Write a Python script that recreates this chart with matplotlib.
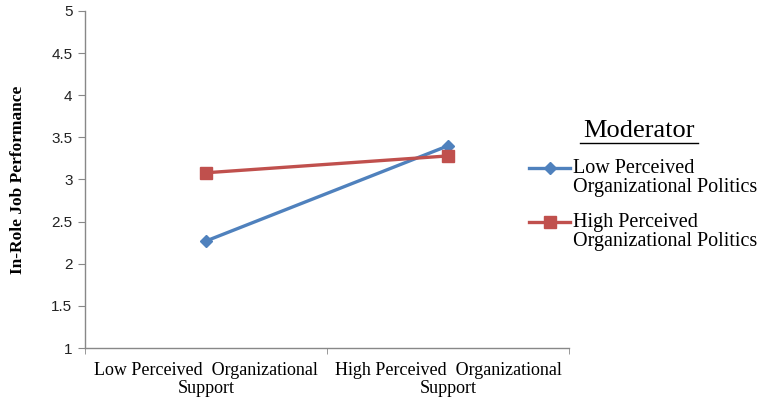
import matplotlib
matplotlib.use("Agg")
import matplotlib.pyplot as plt
from matplotlib.lines import Line2D

categories = ["Low Perceived  Organizational\nSupport", "High Perceived  Organizational\nSupport"]
low_politics = [2.27, 3.40]
high_politics = [3.08, 3.28]
series_names = ["Low Perceived\nOrganizational Politics", "High Perceived\nOrganizational Politics"]
y_ticks = [1, 1.5, 2, 2.5, 3, 3.5, 4, 4.5, 5]
y_tick_labels = ["1", "1.5", "2", "2.5", "3", "3.5", "4", "4.5", "5"]

blue = "#4F81BD"
red = "#C0504D"
serif = ["Liberation Serif", "DejaVu Serif"]

W, H = 784, 403
fig = plt.figure(figsize=(W/100, H/100), dpi=100)
ax = fig.add_axes([85/W, 55/H, 484/W, 337/H])

x = list(range(len(categories)))
styles = [dict(color=blue, marker="D", ms=6.5), dict(color=red, marker="s", ms=8.5)]
series = [low_politics, high_politics]
for vals, st in zip(series, styles):
    ax.plot(x, vals, lw=2.4, **st)

ax.set_xlim(-0.5, 1.5)
ax.set_ylim(1, 5)
ax.set_yticks(y_ticks)
ax.set_yticklabels(y_tick_labels, fontsize=11, family=["Liberation Sans", "DejaVu Sans"], color="#222222")
ax.set_xticks(x)
ax.set_xticklabels(categories, fontsize=13, family=serif, linespacing=1.1)
ax.set_xticks([-0.5, 0.5, 1.5], minor=True)
ax.tick_params(axis="x", which="major", length=0, pad=10)
ax.tick_params(axis="x", which="minor", length=4, color="#888888")
ax.tick_params(axis="y", length=5, color="#888888", pad=4)
for s in ["top", "right"]:
    ax.spines[s].set_visible(False)
for s in ["left", "bottom"]:
    ax.spines[s].set_color("#888888")
    ax.spines[s].set_linewidth(1.0)

ax.set_ylabel("In-Role Job Performance", fontsize=12.5, family=serif, fontweight="bold")
ax.yaxis.set_label_coords((26 - 85) / 484, 0.5)

# Legend (drawn manually to match the reference layout)
fig.text(639/W, 1 - 131/H, "Moderator", fontsize=19, family=serif, ha="center", va="center")
fig.add_artist(Line2D([580/W, 698/W], [1 - 143/H, 1 - 143/H], color="black", lw=1.0))
entry_y = [168, 222]
for name, st, yy in zip(series_names, styles, entry_y):
    fig.add_artist(Line2D([529/W, 570/W], [1 - yy/H, 1 - yy/H], color=st["color"], lw=2.4))
    fig.add_artist(Line2D([549.5/W], [1 - yy/H], color=st["color"], marker=st["marker"], ms=st["ms"], lw=0))
    fig.text(573/W, 1 - (yy - 9)/H, name, fontsize=14.5, family=serif, ha="left", va="top", linespacing=1.0)

fig.savefig("out.png", dpi=100)
